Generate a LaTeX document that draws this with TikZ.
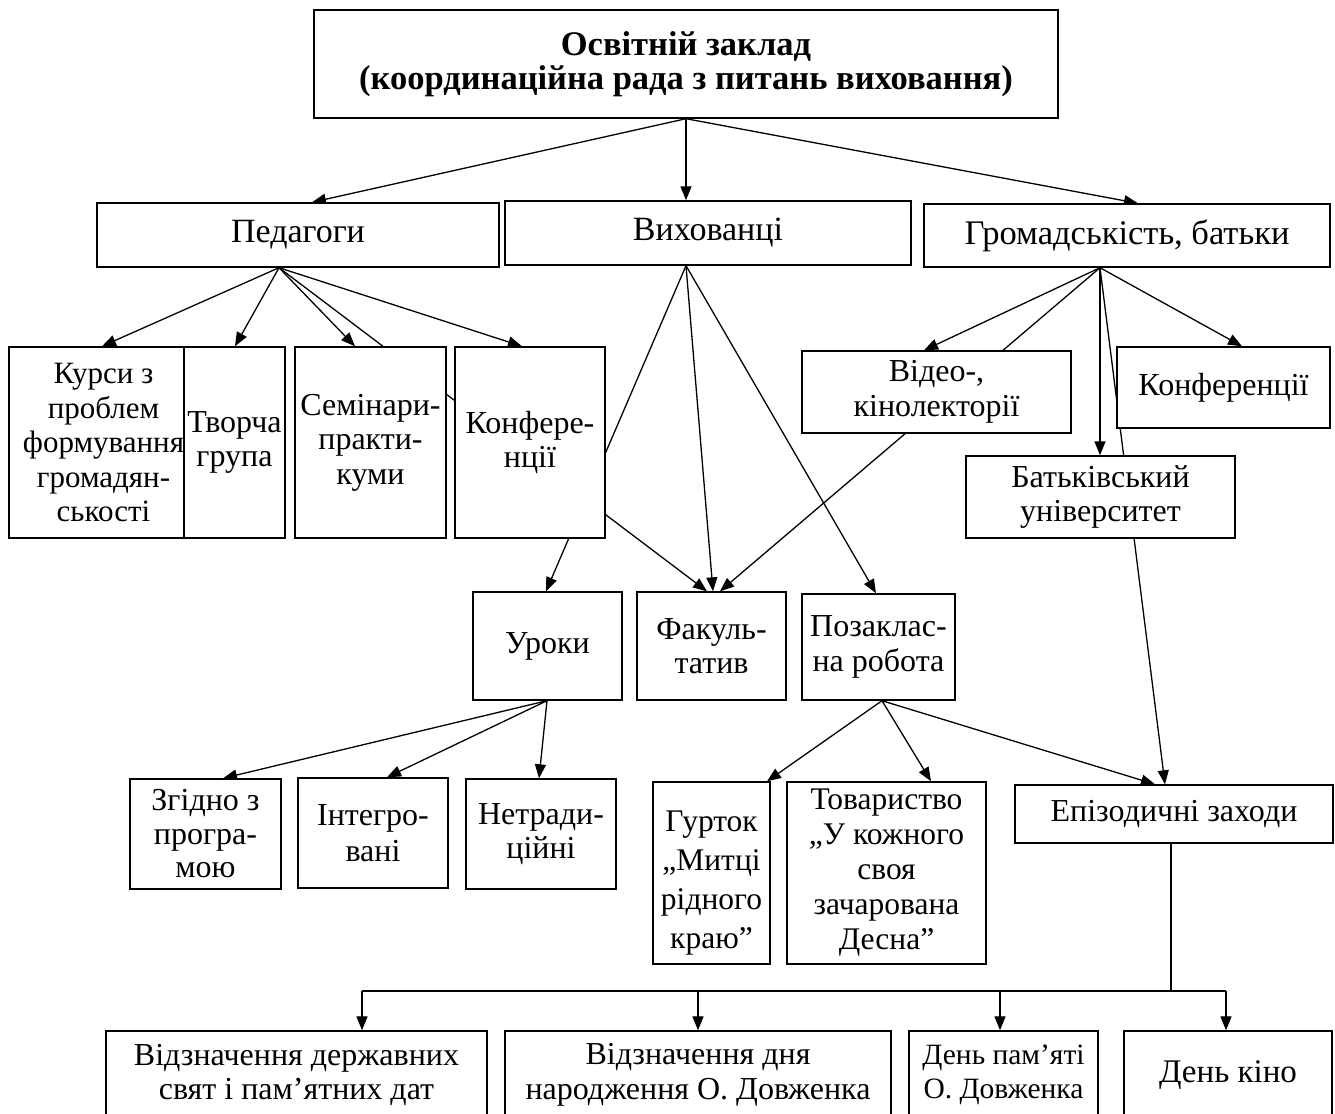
\documentclass[tikz,border=0pt]{standalone}
\usepackage{fontspec}
\setmainfont{Liberation Serif}
\usetikzlibrary{arrows.meta,backgrounds}
\newcommand\myfs[2]{\fontsize{#1}{#2}\selectfont}
\tikzset{
  box/.style={draw, line width=1.4pt, fill=white, align=center, inner sep=0pt,
    font=\myfs{32}{34.5}},
  arr/.style={line width=1.3pt, -{Triangle[length=14pt,width=11pt]}},
  ln/.style={line width=1.3pt},
}
\begin{document}
\begin{tikzpicture}[x=1pt,y=-1pt]
\useasboundingbox (0,0) rectangle (1335,1113);
\clip (0,0) rectangle (1335,1113);
% level 0
\node[box, minimum width=744pt, minimum height=108pt, font=\myfs{34.5}{34}\bfseries] (top) at (686,64)
  {Освітній заклад\\(координаційна рада з питань виховання)};
% level 1
\node[box, minimum width=402pt, minimum height=64pt, font=\myfs{34}{34}] (ped) at (298,235) {Педагоги};
\node[box, minimum width=406pt, minimum height=64pt, font=\myfs{34}{34}] (vyh) at (708,233) {Вихованці};
\node[box, minimum width=406pt, minimum height=63pt, font=\myfs{34.5}{34}] (grom) at (1127,235.5) {Громадськість, батьки};
% teachers' forms
\node[box, minimum width=189pt, minimum height=191pt, font=\myfs{31}{34.5}] (kursy) at (103.5,442.5) {Курси з\\проблем\\формування\\громадян-\\ськості};
\node[box, minimum width=101pt, minimum height=191pt] (tvor) at (234.5,442.5) {Творча\\група};
\node[box, minimum width=151pt, minimum height=191pt] (semin) at (370.5,442.5) {Семінари-\\практи-\\куми};
\node[box, minimum width=150pt, minimum height=191pt] (konfp) at (530,442.5) {Конфере-\\нції};
% parents' forms
\node[box, minimum width=269pt, minimum height=82pt] (video) at (936.5,392) {Відео-,\\кінолекторії};
\node[box, minimum width=213pt, minimum height=81pt] (konfg) at (1223.5,387.5) {Конференції};
\node[box, minimum width=269pt, minimum height=82pt] (batk) at (1100.5,497) {Батьківський\\університет};
% pupils' forms
\node[box, minimum width=149pt, minimum height=108pt] (uroky) at (547.5,646) {Уроки};
\node[box, minimum width=149pt, minimum height=108pt] (fakult) at (711.5,646) {Факуль-\\татив};
\node[box, minimum width=153pt, minimum height=106pt] (pozakl) at (878.5,647) {Позаклас-\\на робота};
% lessons
\node[box, minimum width=151pt, minimum height=110pt, font=\myfs{32}{33.5}] (zghid) at (205.5,834) {Згідно з\\програ-\\мою};
\node[box, minimum width=150pt, minimum height=110pt, font=\myfs{32}{36}] (integr) at (373,833) {Інтегро-\\вані};
\node[box, minimum width=150pt, minimum height=110pt] (netrad) at (541,834) {Нетради-\\ційні};
% extracurricular
\node[box, minimum width=117pt, minimum height=182pt, font=\myfs{31.5}{39}] (gurt) at (711.5,873) {\rule{0pt}{40pt}Гурток\\„Митці\\рідного\\краю”};
\node[box, minimum width=199pt, minimum height=182pt, font=\myfs{31.5}{35}] (tovar) at (886.5,873) {Товариство\\„У кожного\\своя\\зачарована\\Десна”};
\node[box, minimum width=318pt, minimum height=58pt] (epiz) at (1174,814) {Епізодичні заходи};
% bottom row
\node[box, minimum width=381pt, minimum height=88pt] (b1) at (296.5,1075) {Відзначення державних\\свят і пам’ятних дат};
\node[box, minimum width=386pt, minimum height=88pt] (b2) at (698,1075) {Відзначення дня\\народження О. Довженка};
\node[box, minimum width=189pt, minimum height=88pt, font=\myfs{29.5}{34.5}] (b3) at (1003.5,1075) {День пам’яті\\О. Довженка};
\node[box, minimum width=208pt, minimum height=88pt, font=\myfs{33}{34.5}] (b4) at (1228,1075) {День кіно};
\coordinate (bus) at (1171,991);

\begin{pgfonlayer}{background}
\draw[arr] (top.south) -- (ped.north -| 312,0);
\draw[arr] (top.south) -- (vyh.north -| 686,0);
\draw[arr] (top.south) -- (grom.north -| 1138,0);
% from teachers
\draw[arr] (ped.south -| 279,0) -- (kursy.north -| 102,0);
\draw[arr] (ped.south -| 279,0) -- (tvor.north -| 235,0);
\draw[arr] (ped.south -| 279,0) -- (semin.north -| 355,0);
\draw[arr] (ped.south -| 279,0) -- (konfp.north -| 522,0);
\draw[arr] (ped.south -| 279,0) -- (fakult.north -| 707,0);
% from pupils
\draw[arr] (vyh.south -| 686,0) -- (uroky.north -| 546,0);
\draw[arr] (vyh.south -| 686,0) -- (fakult.north -| 713,0);
\draw[arr] (vyh.south -| 686,0) -- (pozakl.north -| 876,0);
% from parents
\draw[arr] (grom.south -| 1100,0) -- (video.north -| 924,0);
\draw[arr] (grom.south -| 1100,0) -- (konfg.north -| 1242,0);
\draw[arr] (grom.south -| 1100,0) -- (batk.north -| 1100,0);
\draw[arr] (grom.south -| 1100,0) -- (fakult.north -| 720,0);
\draw[arr] (grom.south -| 1100,0) -- (epiz.north -| 1165,0);
% lessons
\draw[arr] (uroky.south -| 547,0) -- (zghid.north -| 223,0);
\draw[arr] (uroky.south -| 547,0) -- (integr.north -| 387,0);
\draw[arr] (uroky.south -| 547,0) -- (netrad.north -| 539,0);
% extracurricular
\draw[arr] (pozakl.south -| 882,0) -- (gurt.north -| 767,0);
\draw[arr] (pozakl.south -| 882,0) -- (tovar.north -| 931,0);
\draw[arr] (pozakl.south -| 882,0) -- (epiz.north -| 1155,0);
% episodic
\draw[ln] (epiz.south -| bus) -- (bus);
\draw[ln] (bus -| 362,0) -- (bus -| 1226,0);
\draw[arr] (bus -| 362,0) -- (b1.north -| 362,0);
\draw[arr] (bus -| 698,0) -- (b2.north -| 698,0);
\draw[arr] (bus -| 1000,0) -- (b3.north -| 1000,0);
\draw[arr] (bus -| 1226,0) -- (b4.north -| 1226,0);
\end{pgfonlayer}
\end{tikzpicture}
\end{document}
